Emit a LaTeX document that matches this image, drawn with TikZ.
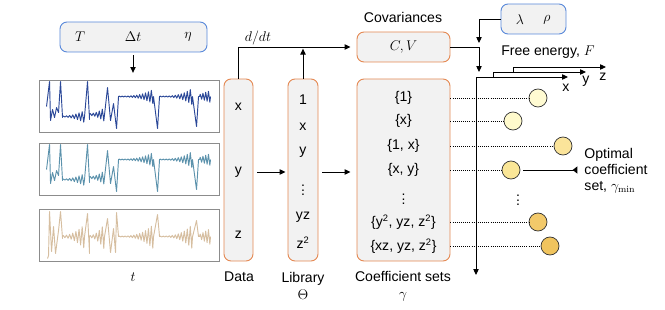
\documentclass[tikz,border=0pt]{standalone}
\usepackage{amsmath}
\usepackage[no-math]{fontspec}
\setmainfont{Liberation Sans}
\usepackage{xcolor}
\usepackage{tikz}
\usetikzlibrary{positioning, calc, arrows.meta}
\definecolor{parblue}{RGB}{88,136,218}
\definecolor{boxorange}{RGB}{228,136,82}
\definecolor{boxfill}{RGB}{242,242,242}
\definecolor{framegray}{RGB}{140,140,140}
\definecolor{xcol}{RGB}{43,72,152}
\definecolor{ycol}{RGB}{92,146,172}
\definecolor{zcol}{RGB}{214,190,160}
\definecolor{fea}{RGB}{255,251,210}
\definecolor{feb}{RGB}{255,250,204}
\definecolor{fec}{RGB}{251,228,154}
\definecolor{fed}{RGB}{250,230,151}
\definecolor{fee}{RGB}{242,201,106}
\definecolor{fef}{RGB}{240,196,94}

\begin{document}
\begin{tikzpicture}[x=0.03cm, y=-0.03cm, font=\fontsize{12}{14.5}\selectfont,
  >={Triangle[length=5pt, width=4.5pt]}, line width=0.8pt,
  parbox/.style={draw=parblue, fill=boxfill, rounded corners=6pt, inner sep=0pt, minimum height=0.9cm},
  orbox/.style={draw=boxorange, fill=boxfill, rounded corners=6pt, inner sep=0pt},
  plotframe/.style={draw=framegray, minimum width=5.4cm, minimum height=1.56cm, inner sep=0pt},
  fdot/.style={circle, draw=black!80, line width=0.6pt, minimum size=0.54cm, inner sep=0pt},
  vdotlab/.style={inner sep=0pt},
  link/.style={densely dotted, line width=0.8pt}]

% 1 unit = 1 px of the 665 x 310 canvas, y runs downwards
\useasboundingbox (0,0) rectangle (665,310);

%% ── parameters and time series ──────────────────────────────────
\node[parbox, minimum width=4.41cm] (params) at (133.5,37) {};
\node (T) at (80,37) {$T$};
\node (dt) at (133,37) {$\Delta t$};
\node (eta) at (188,37) {$\eta$};

\node[plotframe] (xplot) at (129,106) {};
\node[plotframe] (yplot) at (129,169) {};
\node[plotframe] (zplot) at (129,235) {};
\node (tlab) at (133,277) {$t$};

\draw[->, shorten <=0.09cm, shorten >=0.2cm] (dt |- params.south) -- (dt |- xplot.north);

% x and y share the same switching pattern
\foreach \pl/\col in {xplot/xcol, yplot/ycol} {
  \begin{scope}[shift={(\pl.north west)}]
    \draw[\col, line width=0.8pt, line join=round] (8,27) -- (11,2) -- (12,41) -- (14,30) -- (16,38) -- (18,28) -- (20,33) -- (22,2) -- (24,38)
      -- plot[domain=0:1, samples=29] ({24+22*\x}, {37-(0.5+5.5*\x*\x)*sin(2520*\x)})
      -- (49,2) -- (51,40)
      -- plot[domain=0:1, samples=21] ({51+15*\x}, {35-(1+6*\x*\x)*sin(1800*\x)})
      -- (69,8) -- (72,41) -- (75,24) -- (78,49) -- (80,17)
      -- plot[domain=0:1, samples=49] ({80+35*\x}, {17-(0.4+7*\x*\x*\x)*sin(4320*\x)})
      -- (119,49) -- (121,17)
      -- plot[domain=0:1, samples=45] ({121+33*\x}, {17-(0.4+8*\x*\x*\x)*sin(3960*\x)})
      -- (158,47) -- (160,17)
      -- plot[domain=0:1, samples=17] ({161+11*\x}, {17-(2+4*\x)*sin(1440*\x)});
  \end{scope}
}

\begin{scope}[shift={(zplot.north west)}]
  \draw[zcol, line width=0.8pt, line join=round] (9,50) -- (10,47) -- (11,3) -- (13,43) -- (15,18) -- (17,45) -- (20,22) -- (22,3) -- (24,30)
    -- plot[domain=0:1, samples=29] ({24+22*\x}, {28-(1+11*\x*\x)*sin(2520*\x)})
    -- (49,5) -- (51,45)
    -- plot[domain=0:1, samples=21] ({51+15*\x}, {28-(1+12*\x*\x)*sin(1800*\x)})
    -- (69,10) -- (72,44) -- (75,20) -- (77,44) -- (78,4) -- (80,28)
    -- plot[domain=0:1, samples=49] ({80+35*\x}, {28-(0.4+12*\x*\x*\x)*sin(4320*\x)})
    -- (119,6) -- (121,28)
    -- plot[domain=0:1, samples=45] ({121+33*\x}, {28-(0.4+12*\x*\x*\x)*sin(3960*\x)})
    -- (158,12) -- (160,28)
    -- plot[domain=0:1, samples=17] ({161+11*\x}, {28-(2+6*\x)*sin(1440*\x)});
\end{scope}

%% ── data, library, coefficient sets ─────────────────────────────
\node[orbox, minimum width=0.87cm, minimum height=5.46cm] (data) at (238.5,170) {};
\node (dx) at (238.5,107) {x};
\node (dy) at (238.5,172) {y};
\node (dz) at (238.5,235) {z};
\node (datalab) at (239,277) {Data};

\node[orbox, minimum width=0.9cm, minimum height=5.46cm] (lib) at (303,170) {};
\node (l1) at (303,100) {1};
\node (lx) at (303,127) {x};
\node (ly) at (303,152) {y};
\node[vdotlab] (ldots) at (303,187) {$\vdots$};
\node (lyz) at (303,217) {yz};
\node (lzz) at (303,243) {z\textsuperscript{2}};
\node[align=center] (liblab) at (303,286) {Library\\$\Theta$};

\node[orbox, minimum width=2.79cm, minimum height=5.46cm] (coef) at (403.5,170) {};
\node (s1) at (403.5,98) {\{1\}};
\node (s2) at (403.5,121) {\{x\}};
\node (s3) at (403.5,146) {\{1, x\}};
\node (s4) at (403.5,170) {\{x, y\}};
\node[vdotlab] (s5) at (403.5,196) {$\vdots$};
\node (s6) at (403.5,222) {\{y\textsuperscript{2}, yz, z\textsuperscript{2}\}};
\node (s7) at (403.5,246) {\{xz, yz, z\textsuperscript{2}\}};
\node[align=center] (coeflab) at (403,286) {Coefficient sets\\$\gamma$};

\node[orbox, minimum width=2.79cm, minimum height=0.9cm] (cov) at (403.5,47) {$C, V$};
\node (covlab) at (403,17) {Covariances};

\draw[->, shorten <=0.12cm, shorten >=0.06cm] (data.east |- dy) -- (lib.west |- dy);
\draw[->, shorten <=0.12cm, shorten >=0.18cm] (lib.east |- dy) -- (coef.west |- dy);
\draw[->, shorten >=0.18cm] (data.north) |- (cov.west);
\node (ddt) at (258,38) {$d/dt$};
\draw[->, shorten >=0.05cm] (lib.north) -- (lib.north |- cov.west);

%% ── free energy axes ─────────────────────────────────────────────
\node[parbox, minimum width=1.95cm] (lamrho) at (533.5,19) {};
\node (lam) at (520,20) {$\lambda$};
\node (rho) at (547,20) {$\rho$};

\coordinate (lamend) at (479,43);
\coordinate (covend) at (479,72);
\draw[->] (lamrho.west) -| (lamend);
\draw[->] (cov.east) -| (covend);

\coordinate (xend) at (568,77);
\coordinate (fend) at (476,275);
\coordinate (ystart) at (493,77);
\coordinate (yend) at (586,72);
\coordinate (zstart) at (513,72);
\coordinate (zend) at (606,67);
\draw[<->] (xend) -| (fend);
\draw[->] (ystart) |- (yend);
\draw[->] (zstart) |- (zend);
\node (xlab) at (566,88) {x};
\node (ylab) at (586,81) {y};
\node (zlab) at (603,77) {z};
\node (felab) at (548,52) {Free energy, $F$};

%% ── free energy of each set ──────────────────────────────────────
\node[fdot, fill=fea] (f1) at (538,98) {};
\node[fdot, fill=feb] (f2) at (513,121) {};
\node[fdot, fill=fec] (f3) at (563,146) {};
\node[fdot, fill=fed] (f4) at (511,170) {};
\node[fdot, fill=fee] (f5) at (538,222) {};
\node[fdot, fill=fef] (f6) at (550,246) {};
\node[vdotlab] (fdots) at (518,197) {$\vdots$};

\foreach \s/\f in {s1/f1, s2/f2, s3/f3, s4/f4, s6/f5, s7/f6}
  \draw[link] (coef.east |- \s) -- (\f.west);

\node[align=left, anchor=west, inner sep=0pt, font=\fontsize{12}{13.5}\selectfont] (opt) at (584,171) {Optimal\\coefficient\\set, $\gamma_{\min}$};
\draw[-{Triangle[reversed, length=4pt, width=6pt]}, shorten <=0.08cm, shorten >=0.2cm] (f4.east) -- (f4.east -| opt.west);

\end{tikzpicture}
\end{document}
